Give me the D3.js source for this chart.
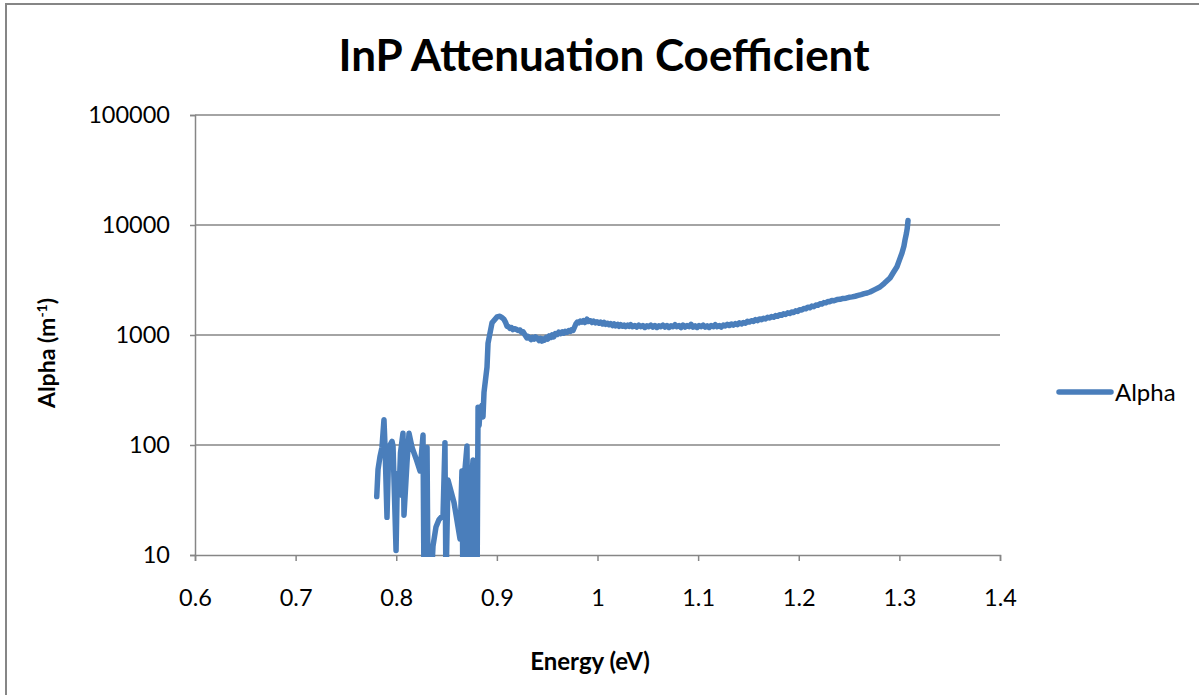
<!DOCTYPE html>
<html>
<head>
<meta charset="utf-8">
<script src="https://cdn.jsdelivr.net/npm/d3@7"></script>
<style>
  html, body { margin: 0; padding: 0; background: #fff; }
  svg { display: block; }
  text { font-family: Lato, "Open Sans", sans-serif; fill: #000; }
</style>
</head>
<body>
<svg id="chart" width="1199" height="695"></svg>
<script>
// Photon energy (eV) and absorption coefficient alpha (m^-1) for InP.
// Values under the axis floor (10) are drawn down to the axis and clipped.
const energy = [
  0.7806, 0.7819, 0.7838, 0.7858, 0.7878, 0.7888, 0.7908, 0.7923, 0.7938, 0.7958,
  0.7968, 0.7998, 0.8012, 0.8027, 0.8042, 0.8067, 0.8077, 0.8107, 0.8127, 0.8157,
  0.8197, 0.8237, 0.8266, 0.8276, 0.8306, 0.8316, 0.8345, 0.8365, 0.8395, 0.8425,
  0.8465, 0.8484, 0.8494, 0.8514, 0.8574, 0.8634, 0.8653, 0.8663, 0.8683, 0.8703,
  0.8713, 0.8743, 0.8763, 0.8773, 0.8803, 0.8813, 0.8823, 0.8832, 0.8852, 0.8862,
  0.8872, 0.8902, 0.8912, 0.8952, 0.9001,
  0.9030, 0.9051, 0.9070, 0.9085, 0.9101, 0.9115, 0.9130, 0.9145, 0.9160, 0.9175,
  0.9190, 0.9210, 0.9230, 0.9245, 0.9260, 0.9280, 0.9299, 0.9310, 0.9320, 0.9340,
  0.9355, 0.9370, 0.9385, 0.9400, 0.9420, 0.9435, 0.9448, 0.9460, 0.9475, 0.9490,
  0.9505, 0.9520, 0.9535, 0.9550, 0.9565, 0.9580, 0.9598, 0.9615, 0.9630, 0.9650,
  0.9665, 0.9680, 0.9697, 0.9715, 0.9730, 0.9745, 0.9757, 0.9770, 0.9785, 0.9800,
  0.9815, 0.9830, 0.9845, 0.9860, 0.9875, 0.9896, 0.9910, 0.9930, 0.9945, 0.9960,
  0.9980, 0.9995, 1.0015, 1.0030, 1.0050, 1.0065, 1.0080, 1.0100, 1.0115, 1.0130,
  1.0150, 1.0165, 1.0180, 1.0200, 1.0215, 1.0230, 1.0250, 1.0265, 1.0280, 1.0300,
  1.0315, 1.0330, 1.0350, 1.0370, 1.0390, 1.0410, 1.0430, 1.0450, 1.0470, 1.0490,
  1.0510, 1.0530, 1.0550, 1.0570, 1.0590, 1.0610, 1.0630, 1.0650, 1.0670, 1.0690,
  1.0710, 1.0730, 1.0750, 1.0770, 1.0790, 1.0810, 1.0830, 1.0850, 1.0870, 1.0890,
  1.0910, 1.0930, 1.0950, 1.0970, 1.0990, 1.1010, 1.1030, 1.1050, 1.1070, 1.1090,
  1.1110, 1.1130, 1.1150, 1.1170, 1.1190, 1.1210, 1.1230, 1.1250, 1.1270, 1.1290,
  1.1310, 1.1330, 1.1350, 1.1370, 1.1390, 1.1410, 1.1430, 1.1450, 1.1470, 1.1490,
  1.1510, 1.1530, 1.1550, 1.1570, 1.1590, 1.1610, 1.1630, 1.1650, 1.1670, 1.1690,
  1.1710, 1.1730, 1.1750, 1.1770, 1.1790, 1.1810, 1.1830, 1.1850, 1.1870, 1.1890,
  1.1910, 1.1930, 1.1950, 1.1970, 1.1990, 1.2010, 1.2030, 1.2050, 1.2070, 1.2090,
  1.2110, 1.2130, 1.2150, 1.2170, 1.2190, 1.2210, 1.2230, 1.2250, 1.2270, 1.2290,
  1.2310, 1.2330, 1.2350, 1.2380, 1.2410, 1.2440, 1.2470, 1.2500, 1.2530, 1.2560,
  1.2590, 1.2620, 1.2650, 1.2680, 1.2708, 1.2760, 1.2807, 1.2850, 1.2907, 1.2940,
  1.2976, 1.3000, 1.3026, 1.3045, 1.3056, 1.3070, 1.3078, 1.3086
];
const alpha = [
  34, 60, 78, 95, 170, 100, 22, 75, 100, 108,
  98, 11, 55, 35, 85, 128, 23, 70, 128, 95,
  75, 58, 123, 5, 95, 5, 5, 12, 18, 21,
  23, 105, 5, 48, 30, 14, 58, 5, 60, 98,
  5, 40, 73, 5, 5, 220, 150, 200, 230, 180,
  300, 510, 840, 1290, 1460,
  1480, 1440, 1390, 1310, 1200, 1190, 1150, 1170, 1120, 1140,
  1130, 1100, 1110, 1060, 1070, 1000, 940, 970, 950, 910,
  950, 920, 960, 940, 890, 930, 880, 920, 900, 950,
  920, 980, 950, 1000, 960, 1030, 1010, 1060, 1030, 1070,
  1040, 1080, 1060, 1100, 1080, 1120, 1100, 1170, 1260, 1310,
  1290, 1340, 1310, 1350, 1300, 1390, 1330, 1350, 1300, 1340,
  1290, 1320, 1280, 1310, 1260, 1300, 1250, 1280, 1240, 1270,
  1220, 1260, 1210, 1250, 1200, 1240, 1200, 1230, 1190, 1230,
  1200, 1240, 1190, 1220, 1180, 1230, 1190, 1220, 1170, 1210,
  1190, 1230, 1180, 1220, 1170, 1210, 1190, 1230, 1180, 1220,
  1170, 1210, 1190, 1240, 1190, 1220, 1170, 1230, 1180, 1220,
  1190, 1250, 1180, 1210, 1170, 1220, 1190, 1230, 1180, 1210,
  1170, 1220, 1190, 1240, 1190, 1220, 1180, 1230, 1210, 1250,
  1220, 1260, 1230, 1270, 1240, 1290, 1260, 1300, 1280, 1330,
  1310, 1350, 1330, 1380, 1350, 1400, 1380, 1420, 1400, 1450,
  1430, 1470, 1450, 1500, 1480, 1530, 1510, 1560, 1540, 1590,
  1570, 1620, 1600, 1660, 1640, 1700, 1690, 1740, 1730, 1790,
  1770, 1830, 1810, 1870, 1860, 1920, 1910, 1970, 1960, 2020,
  2010, 2060, 2050, 2100, 2110, 2150, 2160, 2200, 2220, 2250,
  2290, 2330, 2380, 2410, 2460, 2600, 2730, 2950, 3300, 3700,
  4170, 4800, 5560, 6400, 7300, 8400, 9300, 11000
];
const xTicks = [0.6, 0.7, 0.8, 0.9, 1, 1.1, 1.2, 1.3, 1.4];
const yTicks = [10, 100, 1000, 10000, 100000];
const seriesName = "Alpha";

const svg = d3.select("#chart");
const W = 1199, H = 695;
const plot = { left: 195, right: 1000, top: 115, bottom: 555 };
const gridColor = "#868686";
const lineColor = "#4a7ebb";

// Outer chart frame
svg.append("rect")
  .attr("x", 6).attr("y", 4).attr("width", W + 10).attr("height", H + 10)
  .attr("fill", "#fff").attr("stroke", gridColor).attr("stroke-width", 2);

const x = d3.scaleLinear().domain([0.6, 1.4]).range([plot.left, plot.right]);
const y = d3.scaleLog().domain([10, 100000]).range([plot.bottom, plot.top]);

// Horizontal gridlines at each decade
svg.append("g").selectAll("line").data(yTicks.slice(1)).join("line")
  .attr("x1", plot.left).attr("x2", plot.right)
  .attr("y1", d => y(d)).attr("y2", d => y(d))
  .attr("stroke", gridColor).attr("stroke-width", 1.5);

// Y axis
const yAxis = d3.axisLeft(y).tickValues(yTicks).tickFormat(d3.format("d"))
  .tickSize(5).tickPadding(20);
const gy = svg.append("g").attr("transform", `translate(${plot.left},0)`).call(yAxis);
gy.select(".domain").attr("stroke", gridColor).attr("stroke-width", 1.5);
gy.selectAll(".tick line").attr("stroke", gridColor).attr("stroke-width", 1.5);
gy.selectAll(".tick text").attr("font-size", 23.5).attr("font-family", "Lato, sans-serif")
  .attr("fill", "#000");

// X axis
const xAxis = d3.axisBottom(x).tickValues(xTicks).tickFormat(d => d3.format("")(d))
  .tickSize(6).tickPadding(37);
const gx = svg.append("g").attr("transform", `translate(0,${plot.bottom})`).call(xAxis);
gx.select(".domain").attr("stroke", gridColor).attr("stroke-width", 1.5);
gx.selectAll(".tick line").attr("stroke", gridColor).attr("stroke-width", 1.5);
gx.selectAll(".tick text").attr("font-size", 23.5).attr("font-family", "Lato, sans-serif")
  .attr("fill", "#000").attr("dy", "0.35em");

// Data line, clipped to the plotting area
svg.append("clipPath").attr("id", "plot-clip")
  .append("rect")
  .attr("x", plot.left).attr("y", plot.top - 20)
  .attr("width", plot.right - plot.left).attr("height", plot.bottom - plot.top + 22);

const points = energy.map((e, i) => [e, alpha[i]]);
const line = d3.line().x(d => x(d[0])).y(d => y(d[1]));
svg.append("path")
  .datum(points)
  .attr("clip-path", "url(#plot-clip)")
  .attr("d", line)
  .attr("fill", "none")
  .attr("stroke", lineColor)
  .attr("stroke-width", 5.5)
  .attr("stroke-linejoin", "round")
  .attr("stroke-linecap", "round");

// Title
svg.append("text")
  .attr("x", 604).attr("y", 71)
  .attr("text-anchor", "middle")
  .attr("font-size", 44).attr("font-weight", "bold")
  .text("InP Attenuation Coefficient");

// Axis titles
svg.append("text")
  .attr("x", 590).attr("y", 670)
  .attr("text-anchor", "middle")
  .attr("font-size", 24).attr("font-weight", "bold")
  .text("Energy (eV)");

const yTitle = svg.append("text")
  .attr("transform", "translate(55,353) rotate(-90)")
  .attr("text-anchor", "middle")
  .attr("font-size", 23).attr("font-weight", "bold");
yTitle.append("tspan").text("Alpha (m");
yTitle.append("tspan").attr("font-size", 14).attr("dy", -8).text("-1");
yTitle.append("tspan").attr("dy", 8).text(")");

// Legend
const legend = svg.append("g").attr("transform", "translate(1059,392)");
legend.append("line")
  .attr("x1", 0).attr("x2", 52).attr("y1", 0).attr("y2", 0)
  .attr("stroke", lineColor).attr("stroke-width", 5.5).attr("stroke-linecap", "round");
legend.append("text")
  .attr("x", 56).attr("y", 9)
  .attr("font-size", 24)
  .text(seriesName);
</script>
</body>
</html>
